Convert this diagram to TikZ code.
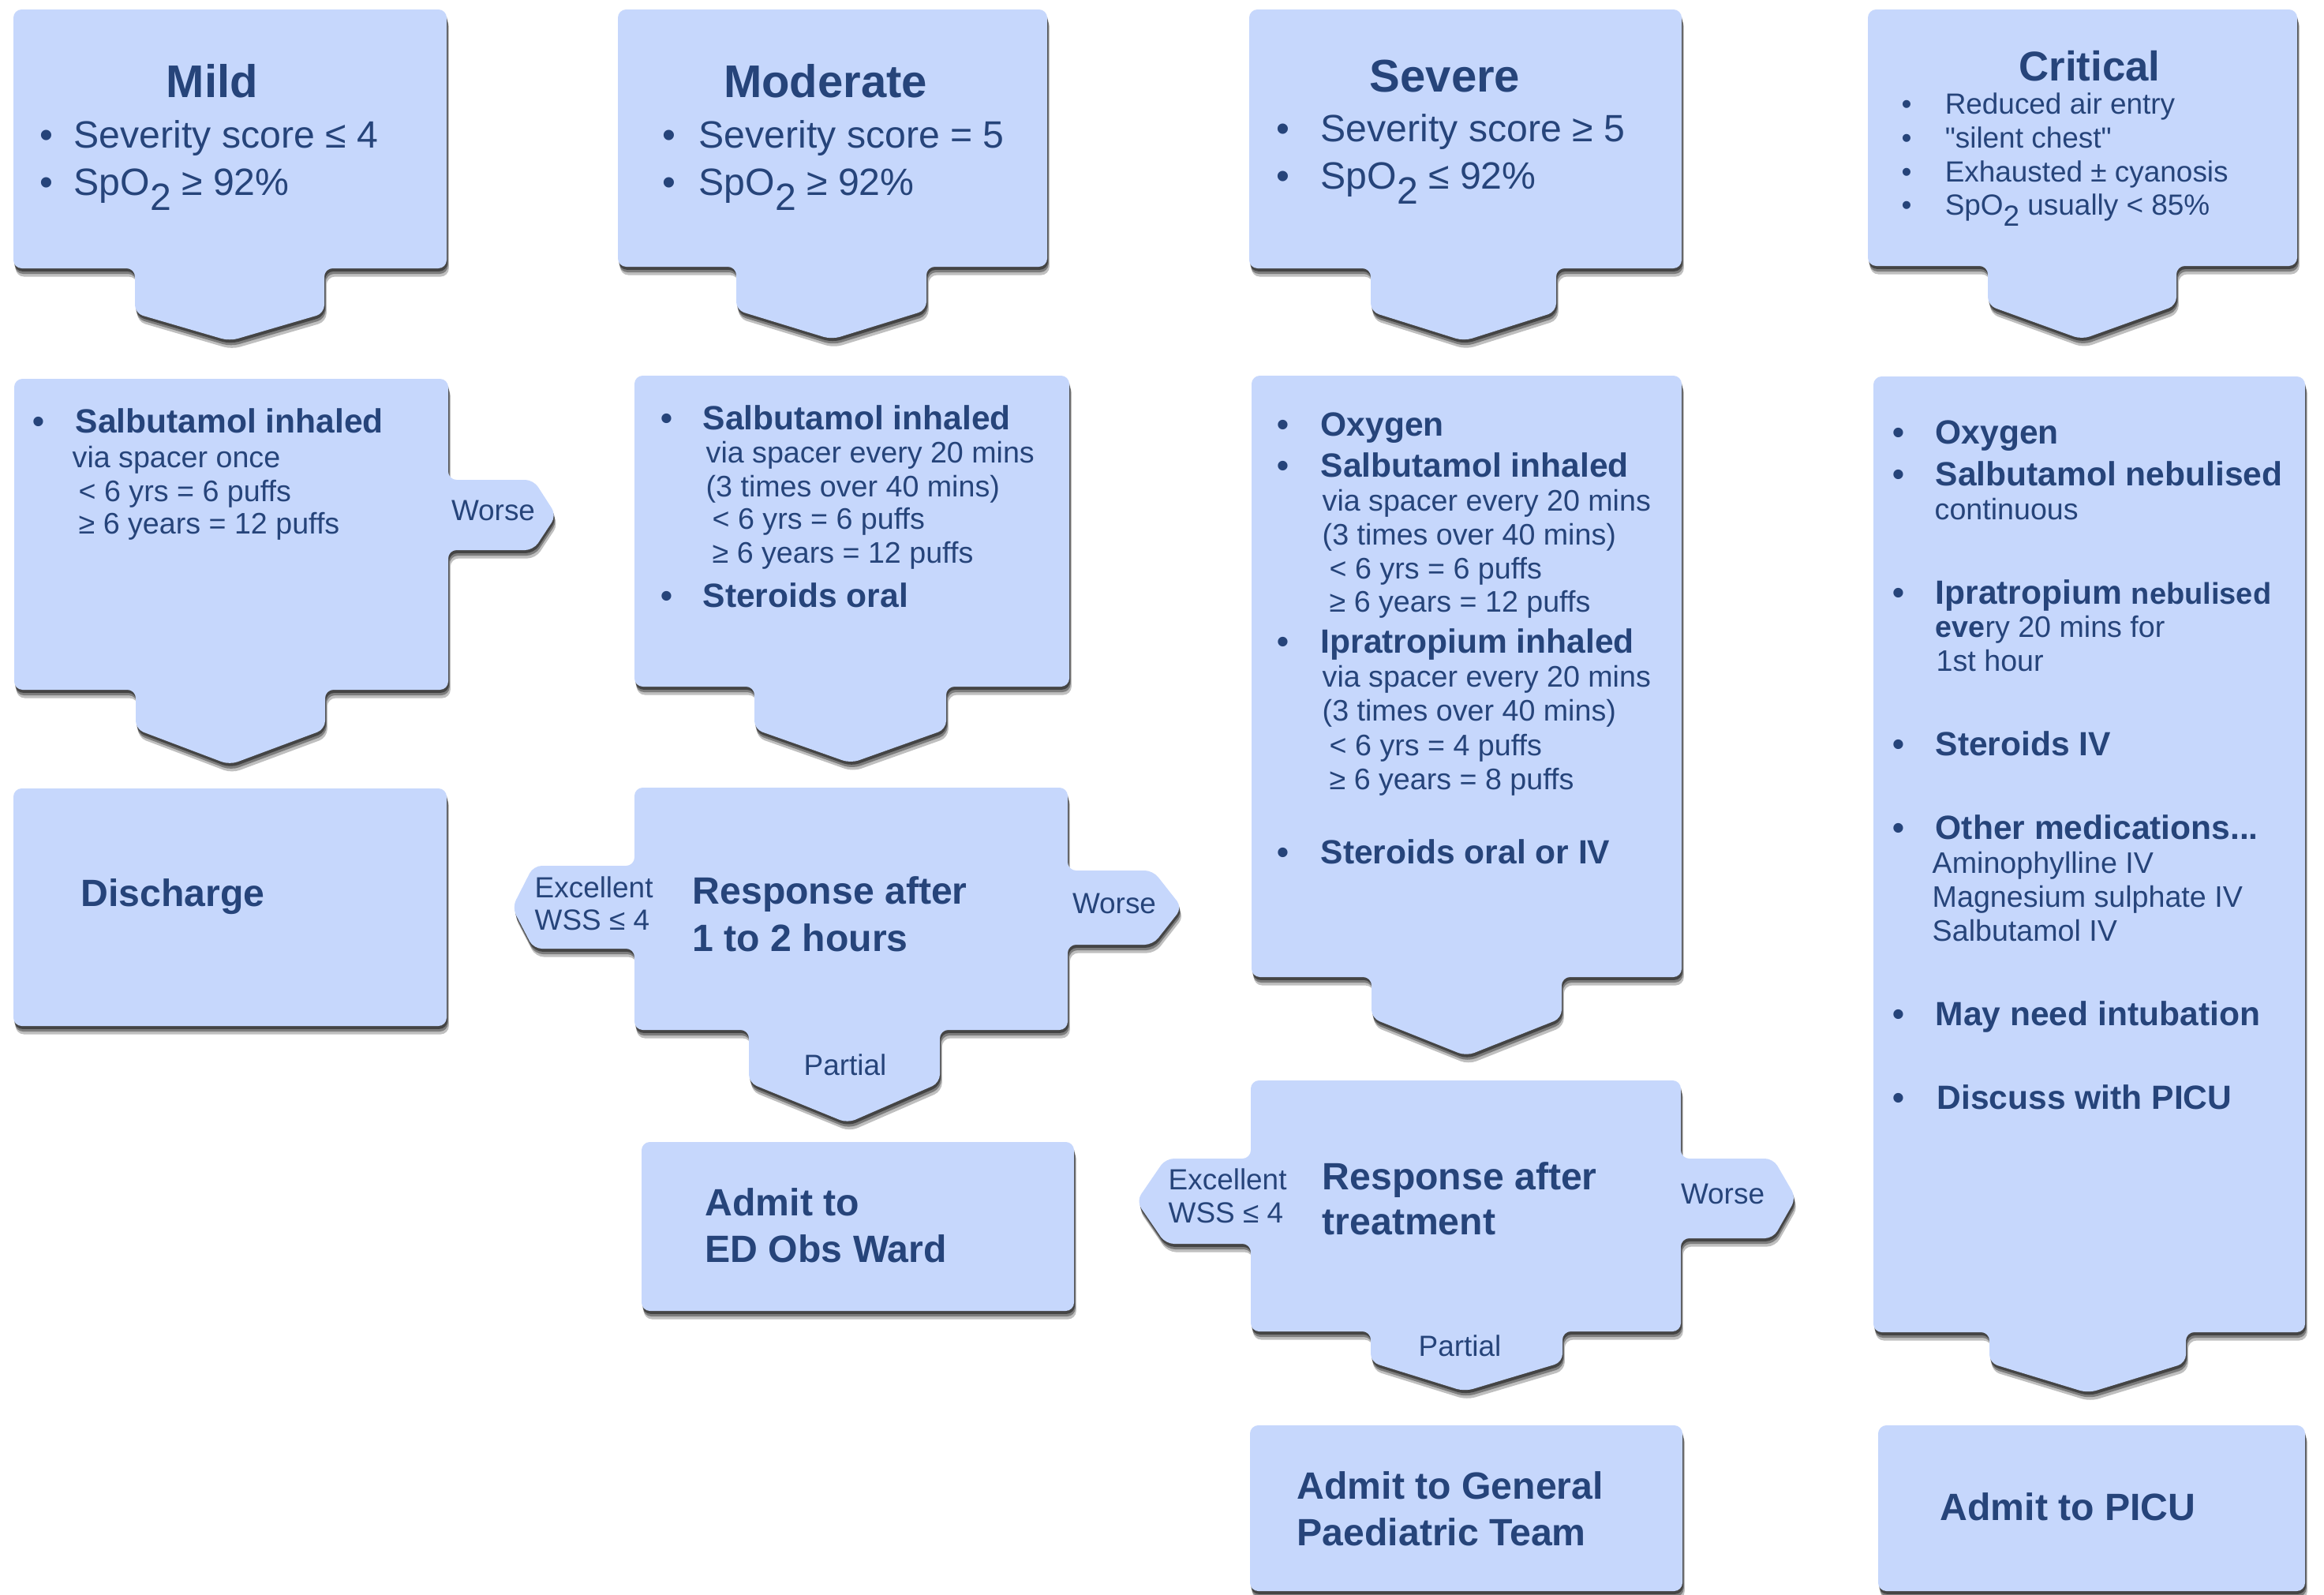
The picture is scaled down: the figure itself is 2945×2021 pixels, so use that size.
\documentclass[tikz,border=0pt]{standalone}
\usepackage{fontspec}
\setmainfont{Liberation Sans}
\usetikzlibrary{shadows}

\definecolor{boxblue}{RGB}{198,215,252}
\definecolor{ink}{RGB}{38,68,122}

\newcommand{\bitem}[1]{\makebox[#1][l]{\textbullet}}
\newcommand{\sub}{\raisebox{-0.4em}{2}}

\tikzset{
  panel/.style={fill=boxblue, rounded corners=3pt,
    drop shadow={shadow xshift=0.8pt, shadow yshift=-3pt, opacity=0.25, fill=black},
    drop shadow={shadow xshift=0.5pt, shadow yshift=-2pt, opacity=0.35, fill=black},
    drop shadow={shadow xshift=0.3pt, shadow yshift=-1.1pt, opacity=0.45, fill=black}},
  ttl/.style={anchor=base, font=\bfseries\fontsize{16.5}{20}\selectfont},
  big/.style={font=\fontsize{13.7}{16}\selectfont},
  bigb/.style={font=\bfseries\fontsize{13.7}{16}\selectfont},
  hd/.style={font=\bfseries\fontsize{12.1}{14}\selectfont},
  subl/.style={font=\fontsize{10.7}{13}\selectfont},
  lbl/.style={font=\fontsize{10.5}{12.5}\selectfont}
}

\begin{document}
\begin{tikzpicture}[x=0.01cm, y=-0.01cm,
    every node/.style={text=ink, inner sep=0pt, anchor=base west}]
        \useasboundingbox (0,0) rectangle (2945,2021);
        \fill[white] (0,0) rectangle (2945,2021);

        % first row: the four grades
        \path[panel] (17,12) -- (566,12) -- (566,340) -- (411,340) -- (411,397) -- (291,432) -- (171,397) -- (171,340) -- (17,340) -- cycle;
        \path[panel] (783,12) -- (1327,12) -- (1327,338) -- (1174,338) -- (1174,393) -- (1054,430) -- (933,393) -- (933,338) -- (783,338) -- cycle;
        \path[panel] (1583,12) -- (2131,12) -- (2131,340) -- (1972,340) -- (1972,395) -- (1855,432) -- (1737,395) -- (1737,340) -- (1583,340) -- cycle;
        \path[panel] (2367,12) -- (2911,12) -- (2911,337) -- (2758,337) -- (2758,387) -- (2638,430) -- (2519,387) -- (2519,337) -- (2367,337) -- cycle;

        % second row: the treatment
        \path[panel] (18,480) -- (568,480) -- (568,608) -- (676,608) -- (705,653) -- (676,697) -- (568,697) -- (568,874) -- (412,874) -- (412,924) -- (291,969) -- (172,924) -- (172,874) -- (18,874) -- cycle;
        \path[panel] (804,476) -- (1355,476) -- (1355,870) -- (1199,870) -- (1199,924) -- (1078,967) -- (956,924) -- (956,870) -- (804,870) -- cycle;
        \path[panel] (1586,476) -- (2131,476) -- (2131,1238) -- (1979,1238) -- (1979,1290) -- (1858,1338) -- (1738,1290) -- (1738,1238) -- (1586,1238) -- cycle;
        \path[panel] (2374,477) -- (2921,477) -- (2921,1688) -- (2770,1688) -- (2770,1727) -- (2646,1765) -- (2521,1727) -- (2521,1688) -- (2374,1688) -- cycle;

        % the response boxes
        \path[panel] (804,998) -- (1353,998) -- (1353,1103) -- (1461,1103) -- (1498,1150) -- (1461,1197) -- (1353,1197) -- (1353,1305) -- (1191,1305) -- (1191,1372) -- (1074,1423) -- (949,1372) -- (949,1305) -- (804,1305) -- (804,1202) -- (676,1202) -- (649,1150) -- (676,1097) -- (804,1097) -- cycle;
        \path[panel] (1585,1369) -- (2130,1369) -- (2130,1468) -- (2247,1468) -- (2276,1518) -- (2247,1569) -- (2130,1569) -- (2130,1687) -- (1980,1687) -- (1980,1726) -- (1856,1763) -- (1737,1726) -- (1737,1687) -- (1585,1687) -- (1585,1576) -- (1477,1576) -- (1440,1522) -- (1477,1468) -- (1585,1468) -- cycle;

        % the end points
        \path[panel] (17,999) rectangle (566,1300);
        \path[panel] (813,1447) rectangle (1361,1661);
        \path[panel] (1584,1806) rectangle (2132,2016);
        \path[panel] (2380,1806) rectangle (2921,2016);

        % the texts of the grades
        \node[ttl] (mildT) at (269,123) {Mild};
        \node[big] (mild1) at (50,187) {\bitem{0.43cm}Severity score ≤ 4};
        \node[big] (mild2) at (50,247) {\bitem{0.43cm}SpO\sub{} ≥ 92\%};

        \node[ttl] (modT) at (1046,123) {Moderate};
        \node[big] (mod1) at (839,187) {\bitem{0.46cm}Severity score = 5};
        \node[big] (mod2) at (839,247) {\bitem{0.46cm}SpO\sub{} ≥ 92\%};

        \node[ttl] (sevT) at (1831,116) {Severe};
        \node[big] (sev1) at (1617,179) {\bitem{0.56cm}Severity score ≥ 5};
        \node[big] (sev2) at (1617,239) {\bitem{0.56cm}SpO\sub{} ≤ 92\%};

        \node[ttl, font=\bfseries\fontsize{15}{18}\selectfont] (critT) at (2648,102) {Critical};
        \node[lbl] (crit1) at (2409,144) {\bitem{0.55cm}Reduced air entry};
        \node[lbl] (crit2) at (2409,187) {\bitem{0.55cm}\textquotedbl silent chest\textquotedbl};
        \node[lbl] (crit3) at (2409,230) {\bitem{0.55cm}Exhausted ± cyanosis};
        \node[lbl] (crit4) at (2409,272) {\bitem{0.55cm}SpO\sub{} usually < 85\%};

        % mild treatment
        \node[hd] (mildS1) at (41,548) {\bitem{0.54cm}Salbutamol inhaled};
        \node[subl] (mildS2) at (91,592) {via spacer once};
        \node[subl] (mildS3) at (99,635) {< 6 yrs = 6 puffs};
        \node[subl] (mildS4) at (99,676) {≥ 6 years = 12 puffs};
        \node[lbl, anchor=base] (mildW) at (625,659) {Worse};
        \node[bigb] (dis) at (102,1148) {Discharge};

        % moderate treatment
        \node[hd] (modS1) at (837,544) {\bitem{0.53cm}Salbutamol inhaled};
        \node[subl] (modS2) at (894,586) {via spacer every 20 mins};
        \node[subl] (modS3) at (894,629) {(3 times over 40 mins)};
        \node[subl] (modS4) at (902,670) {< 6 yrs = 6 puffs};
        \node[subl] (modS5) at (902,713) {≥ 6 years = 12 puffs};
        \node[hd] (modS6) at (837,769) {\bitem{0.53cm}Steroids oral};

        \node[lbl] (modX1) at (677,1137) {Excellent};
        \node[lbl] (modX2) at (677,1178) {WSS ≤ 4};
        \node[bigb] (modR1) at (877,1145) {Response after};
        \node[bigb] (modR2) at (877,1205) {1 to 2 hours};
        \node[lbl, anchor=base] (modW) at (1412,1157) {Worse};
        \node[lbl, anchor=base] (modP) at (1071,1362) {Partial};
        \node[bigb] (ed1) at (893,1540) {Admit to};
        \node[bigb] (ed2) at (893,1599) {ED Obs Ward};

        % severe treatment
        \node[hd] (sevS1) at (1618,552) {\bitem{0.55cm}Oxygen};
        \node[hd] (sevS2) at (1618,604) {\bitem{0.55cm}Salbutamol inhaled};
        \node[subl] (sevS3) at (1675,647) {via spacer every 20 mins};
        \node[subl] (sevS4) at (1675,690) {(3 times over 40 mins)};
        \node[subl] (sevS5) at (1684,733) {< 6 yrs = 6 puffs};
        \node[subl] (sevS6) at (1684,775) {≥ 6 years = 12 puffs};
        \node[hd] (sevS7) at (1618,827) {\bitem{0.55cm}Ipratropium inhaled};
        \node[subl] (sevS8) at (1675,870) {via spacer every 20 mins};
        \node[subl] (sevS9) at (1675,913) {(3 times over 40 mins)};
        \node[subl] (sevS10) at (1684,957) {< 6 yrs = 4 puffs};
        \node[subl] (sevS11) at (1684,1000) {≥ 6 years = 8 puffs};
        \node[hd] (sevS12) at (1618,1094) {\bitem{0.55cm}Steroids oral or IV};

        \node[lbl] (sevX1) at (1480,1507) {Excellent};
        \node[lbl] (sevX2) at (1480,1549) {WSS ≤ 4};
        \node[bigb] (sevR1) at (1675,1507) {Response after};
        \node[bigb] (sevR2) at (1675,1564) {treatment};
        \node[lbl, anchor=base] (sevW) at (2183,1525) {Worse};
        \node[lbl, anchor=base] (sevP) at (1850,1718) {Partial};
        \node[bigb] (gen1) at (1643,1899) {Admit to General};
        \node[bigb] (gen2) at (1643,1958) {Paediatric Team};

        % critical treatment
        \node[hd] (critS1) at (2398,562) {\bitem{0.54cm}Oxygen};
        \node[hd] (critS2) at (2398,615) {\bitem{0.54cm}Salbutamol nebulised};
        \node[subl] (critS3) at (2451,658) {continuous};
        \node[hd] (critS4) at (2398,765) {\bitem{0.54cm}Ipratropium {\fontsize{10.8}{13}\selectfont nebulised}};
        \node[subl] (critS5) at (2452,807) {{\bfseries eve}ry 20 mins for};
        \node[subl] (critS6) at (2453,850) {1st hour};
        \node[hd] (critS7) at (2398,957) {\bitem{0.54cm}Steroids IV};
        \node[hd] (critS8) at (2398,1063) {\bitem{0.54cm}Other medications...};
        \node[subl] (critS9) at (2448,1106) {Aminophylline IV};
        \node[subl] (critS10) at (2448,1149) {Magnesium sulphate IV};
        \node[subl] (critS11) at (2448,1192) {Salbutamol IV};
        \node[hd] (critS12) at (2398,1299) {\bitem{0.54cm}May need intubation};
        \node[hd] (critS13) at (2398,1405) {\bitem{0.56cm}Discuss with PICU};
        \node[bigb] (picu) at (2458,1926) {Admit to PICU};

    \end{tikzpicture}
\end{document}
